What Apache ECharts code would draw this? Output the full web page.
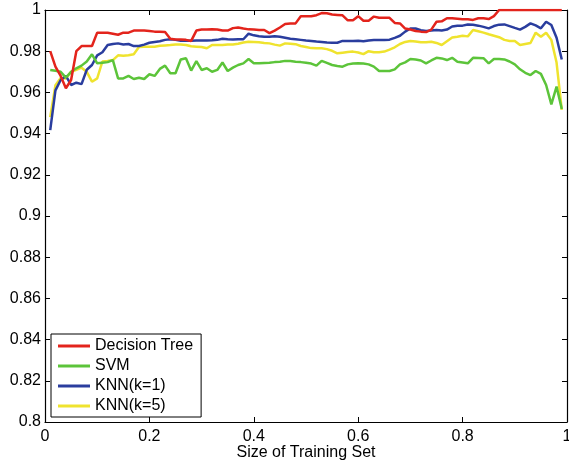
<!DOCTYPE html>
<html>
<head>
<meta charset="utf-8">
<script src="https://cdn.jsdelivr.net/npm/echarts@6/dist/echarts.min.js"></script>
<style>
  html, body { margin: 0; padding: 0; background: #fff; }
  #chart { width: 569px; height: 462px; }
</style>
</head>
<body>
<div id="chart"></div>
<script>
// training set fractions (x positions of the samples)
var trainSize = [
  0.01,0.02,0.03,0.04,0.05,0.06,0.07,0.08,0.09,0.10,
  0.11,0.12,0.13,0.14,0.15,0.16,0.17,0.18,0.19,0.20,
  0.21,0.22,0.23,0.24,0.25,0.26,0.27,0.28,0.29,0.30,
  0.31,0.32,0.33,0.34,0.35,0.36,0.37,0.38,0.39,0.40,
  0.41,0.42,0.43,0.44,0.45,0.46,0.47,0.48,0.49,0.50,
  0.51,0.52,0.53,0.54,0.55,0.56,0.57,0.58,0.59,0.60,
  0.61,0.62,0.63,0.64,0.65,0.66,0.67,0.68,0.69,0.70,
  0.71,0.72,0.73,0.74,0.75,0.76,0.77,0.78,0.79,0.80,
  0.81,0.82,0.83,0.84,0.85,0.86,0.87,0.88,0.89,0.90,
  0.91,0.92,0.93,0.94,0.95,0.96,0.97,0.98,0.99
];

var decisionTree = [
  0.980,0.9725,0.968,0.962,0.966,0.980,0.9825,0.9825,0.9825,0.989,
  0.989,0.989,0.9885,0.988,0.989,0.989,0.990,0.990,0.990,0.9898,
  0.9895,0.9895,0.9893,0.986,0.9857,0.9857,0.9855,0.985,0.990,0.9905,
  0.9905,0.9906,0.9905,0.990,0.990,0.9912,0.9915,0.991,0.9906,0.9905,
  0.9903,0.9903,0.9888,0.990,0.9915,0.9932,0.9935,0.9935,0.997,0.997,
  0.997,0.9975,0.9985,0.9984,0.9978,0.9976,0.9974,0.995,0.995,0.997,
  0.9948,0.9948,0.9968,0.9962,0.9962,0.9962,0.9937,0.9935,0.991,0.9905,
  0.9898,0.9895,0.9893,0.9905,0.9943,0.9945,0.996,0.996,0.9958,0.9955,
  0.9955,0.9952,0.996,0.996,0.9956,0.997,1.0,1.0,1.0,1.0,
  1.0,1.0,1.0,1.0,1.0,1.0,1.0,1.0,1.0
];

var svm = [
  0.9709,0.9705,0.970,0.9672,0.970,0.9717,0.973,0.975,0.9785,0.9741,
  0.9744,0.9747,0.9757,0.9668,0.9668,0.968,0.9665,0.9671,0.9665,0.9688,
  0.968,0.9714,0.973,0.9693,0.9693,0.976,0.9766,0.9706,0.9752,0.9709,
  0.9717,0.970,0.9709,0.9745,0.9704,0.972,0.9733,0.9741,0.9762,0.9742,
  0.9741,0.9743,0.9744,0.9747,0.9749,0.9753,0.9752,0.9749,0.9747,0.9744,
  0.974,0.973,0.9753,0.9743,0.9733,0.9728,0.9725,0.9736,0.974,0.9741,
  0.974,0.9736,0.9725,0.9704,0.9704,0.9704,0.9712,0.9736,0.9746,0.9762,
  0.976,0.9755,0.9741,0.9755,0.9768,0.9765,0.9757,0.9768,0.9749,0.9745,
  0.9741,0.9768,0.9767,0.9766,0.9741,0.9762,0.9762,0.976,0.975,0.9736,
  0.9712,0.9695,0.9684,0.9704,0.969,0.9636,0.9542,0.9628,0.9519
];

var knn1 = [
  0.9417,0.961,0.966,0.968,0.9636,0.9647,0.964,0.971,0.9733,0.978,
  0.9795,0.983,0.9835,0.9838,0.9833,0.9835,0.9825,0.9825,0.9832,0.9841,
  0.9845,0.9848,0.9855,0.9858,0.9855,0.9851,0.9851,0.9851,0.9852,0.9852,
  0.9852,0.9853,0.9855,0.986,0.9858,0.9857,0.9858,0.9858,0.9885,0.9877,
  0.9873,0.987,0.987,0.9872,0.987,0.9865,0.986,0.9858,0.9855,0.9852,
  0.985,0.9847,0.9845,0.9842,0.9841,0.9841,0.985,0.985,0.985,0.9851,
  0.9848,0.9852,0.9854,0.9854,0.9854,0.9856,0.9865,0.9875,0.9895,0.991,
  0.991,0.9902,0.9898,0.990,0.9903,0.990,0.9905,0.992,0.9924,0.9924,
  0.993,0.9928,0.9924,0.9918,0.9911,0.9922,0.9929,0.993,0.9922,0.9913,
  0.9905,0.9918,0.9935,0.9925,0.9911,0.9943,0.9927,0.9865,0.976
];

var knn5 = [
  0.948,0.9635,0.967,0.9668,0.970,0.971,0.972,0.970,0.9652,0.9668,
  0.975,0.9752,0.9757,0.978,0.9778,0.978,0.9785,0.982,0.9822,0.9822,
  0.9822,0.9826,0.9828,0.983,0.9833,0.9832,0.983,0.9824,0.9822,0.982,
  0.9814,0.983,0.983,0.983,0.9832,0.9833,0.9836,0.9842,0.9846,0.9845,
  0.9843,0.984,0.9838,0.9832,0.9827,0.9838,0.9836,0.9834,0.9825,0.982,
  0.9815,0.9814,0.9814,0.981,0.9802,0.979,0.9793,0.9796,0.9798,0.9794,
  0.9786,0.980,0.9795,0.9795,0.9798,0.9808,0.9819,0.9835,0.9845,0.985,
  0.9847,0.9843,0.9843,0.9846,0.984,0.983,0.9848,0.9866,0.987,0.9875,
  0.9872,0.9903,0.9897,0.989,0.9882,0.9875,0.9868,0.9855,0.985,0.985,
  0.983,0.9835,0.984,0.989,0.987,0.989,0.9855,0.9745,0.9515
];

var seriesNames = ['Decision Tree', 'SVM', 'KNN(k=1)', 'KNN(k=5)'];
var seriesColors = ['#e3241c', '#5cc43a', '#2a3d9e', '#efe32e'];
var seriesValues = [decisionTree, svm, knn1, knn5];

function pairs(vals) {
  return vals.map(function (v, i) { return [trainSize[i], v]; });
}

var FONT = 'Liberation Sans';

var chart = echarts.init(document.getElementById('chart'));

var boxAxisLine = { show: true, onZero: false, lineStyle: { color: '#000', width: 1.2 } };
var boxTick = { show: true, inside: true, length: 5, lineStyle: { color: '#000', width: 1 } };

var option = {
  animation: false,
  backgroundColor: '#fff',
  grid: { left: 45, right: 2, top: 10, bottom: 40, outerBoundsMode: 'none', containLabel: false },
  legend: {
    data: seriesNames,
    orient: 'vertical',
    left: 51,
    top: 334,
    backgroundColor: '#fff',
    borderColor: '#000',
    borderWidth: 1,
    padding: [4, 8, 3, 7],
    itemGap: 4,
    itemWidth: 32,
    itemHeight: 3,
    icon: 'rect',
    textStyle: { fontFamily: FONT, fontSize: 16, color: '#000', padding: [0, 0, 0, 0] }
  },
  xAxis: [{
    type: 'value',
    min: 0, max: 1, interval: 0.2,
    name: 'Size of Training Set',
    nameLocation: 'middle',
    nameGap: 23,
    nameMoveOverlap: false,
    nameTextStyle: { fontFamily: FONT, fontSize: 16, color: '#000' },
    axisLine: boxAxisLine,
    axisTick: boxTick,
    axisLabel: { fontFamily: FONT, fontSize: 16, color: '#000', margin: 7 },
    splitLine: { show: false }
  }, {
    type: 'value',
    position: 'top',
    min: 0, max: 1, interval: 0.2,
    axisLine: boxAxisLine,
    axisTick: boxTick,
    axisLabel: { show: false },
    splitLine: { show: false }
  }],
  yAxis: [{
    type: 'value',
    min: 0.8, max: 1, interval: 0.02,
    axisLine: boxAxisLine,
    axisTick: boxTick,
    axisLabel: { fontFamily: FONT, fontSize: 16, color: '#000', margin: 4 },
    splitLine: { show: false }
  }, {
    type: 'value',
    position: 'right',
    min: 0.8, max: 1, interval: 0.02,
    axisLine: boxAxisLine,
    axisTick: boxTick,
    axisLabel: { show: false },
    splitLine: { show: false }
  }],
  series: seriesNames.map(function (name, k) {
    return {
      name: name,
      type: 'line',
      xAxisIndex: 0,
      yAxisIndex: 0,
      data: pairs(seriesValues[k]),
      showSymbol: false,
      symbol: 'none',
      lineStyle: { color: seriesColors[k], width: 2.5 },
      itemStyle: { color: seriesColors[k] },
      z: 10 - k
    };
  })
};

chart.setOption(option);
</script>
</body>
</html>
